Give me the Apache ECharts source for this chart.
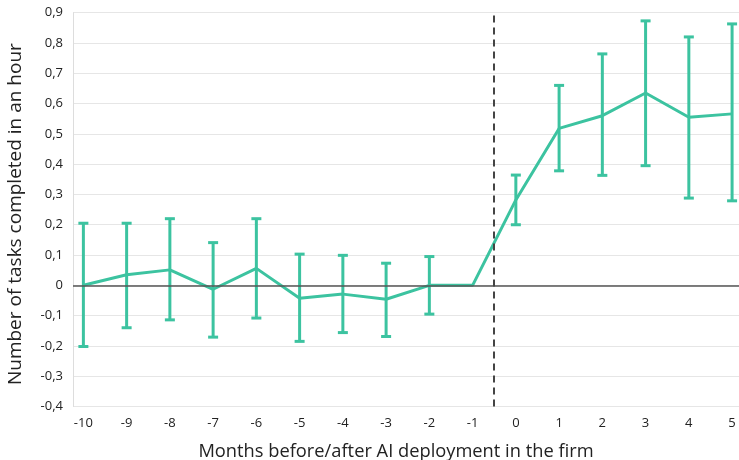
<!DOCTYPE html>
<html>
<head>
<meta charset="utf-8">
<script src="https://cdn.jsdelivr.net/npm/echarts@6/dist/echarts.min.js"></script>
<style>html,body{margin:0;padding:0;background:#fff}#c{width:739px;height:460px}</style>
</head>
<body>
<div id="c"></div>
<script>
var months = [-10,-9,-8,-7,-6,-5,-4,-3,-2,-1,0,1,2,3,4,5];
var estimate = [0,0.035,0.051,-0.013,0.056,-0.043,-0.029,-0.046,0,0,0.282,0.518,0.56,0.635,0.555,0.566];
var ciLow = [-0.202,-0.14,-0.114,-0.171,-0.108,-0.185,-0.156,-0.169,-0.095,null,0.2,0.378,0.363,0.395,0.288,0.279];
var ciHigh = [0.205,0.205,0.22,0.141,0.22,0.103,0.099,0.073,0.095,null,0.364,0.66,0.764,0.873,0.82,0.863];
var yTicks = [-0.4,-0.3,-0.2,-0.1,0,0.1,0.2,0.3,0.4,0.5,0.6,0.7,0.8,0.9];
var deploymentLine = -0.5;

var teal = '#3CC3A0';
var font = '"Open Sans", "Noto Sans", sans-serif';
var chart = echarts.init(document.getElementById('c'), null, {renderer:'canvas'});

var lineData = months.map(function(m,i){return [m, estimate[i]];});
var errData = [];
months.forEach(function(m,i){ if (ciLow[i] !== null) errData.push([m, ciLow[i], ciHigh[i]]); });

chart.setOption({
  animation:false,
  grid:{left:73, right:0, top:12.7, bottom:53.5, containLabel:false, outerBoundsMode:'none'},
  xAxis:{
    type:'value', min:-10.24, max:5.16,
    name:'Months before/after AI deployment in the firm',
    nameLocation:'middle', nameGap:36,
    nameTextStyle:{fontFamily:font, fontSize:18.3, color:'#222', padding:[0,20,0,0]},
    axisLine:{show:false, onZero:false}, axisTick:{show:false}, splitLine:{show:false},
    axisLabel:{customValues:months, fontFamily:font, fontSize:13, color:'#222', margin:10,
      formatter:function(v){return String(Math.round(v));}}
  },
  yAxis:{
    type:'value', min:-0.4, max:0.9, interval:0.1,
    name:'Number of tasks completed in an hour',
    nameLocation:'middle', nameGap:48,
    nameTextStyle:{fontFamily:font, fontSize:19, color:'#222', padding:[0,9,0,0]},
    axisLine:{show:true, onZero:false, lineStyle:{color:'#ddd', width:1}},
    axisTick:{show:false},
    splitLine:{lineStyle:{color:'#e6e6e6', width:1}},
    axisLabel:{fontFamily:font, fontSize:13, color:'#222', margin:10,
      formatter:function(v){var s=(Math.round(v*10)/10).toFixed(1).replace('.',','); return (s==='0,0'||s==='-0,0')?'0':s;}}
  },
  series:[
    {
      type:'line', data:lineData, symbol:'none',
      lineStyle:{color:teal, width:3}, z:3,
      markLine:{
        silent:true, symbol:'none', label:{show:false},
        data:[
          {yAxis:0, lineStyle:{color:'#555', width:1.5, type:'solid'}},
          {xAxis:deploymentLine, lineStyle:{color:'#444', width:2, type:[7,5]}}
        ]
      }
    },
    {
      type:'custom', z:4,
      data:errData,
      encode:{x:0, y:[1,2]},
      renderItem:function(params, api){
        var x = api.value(0);
        var lo = api.coord([x, api.value(1)]);
        var hi = api.coord([x, api.value(2)]);
        var hw = 5;
        var st = {stroke:teal, lineWidth:3};
        return {type:'group', children:[
          {type:'line', shape:{x1:lo[0],y1:lo[1],x2:hi[0],y2:hi[1]}, style:st},
          {type:'line', shape:{x1:lo[0]-hw,y1:lo[1],x2:lo[0]+hw,y2:lo[1]}, style:st},
          {type:'line', shape:{x1:hi[0]-hw,y1:hi[1],x2:hi[0]+hw,y2:hi[1]}, style:st}
        ]};
      }
    }
  ]
});
</script>
</body>
</html>
